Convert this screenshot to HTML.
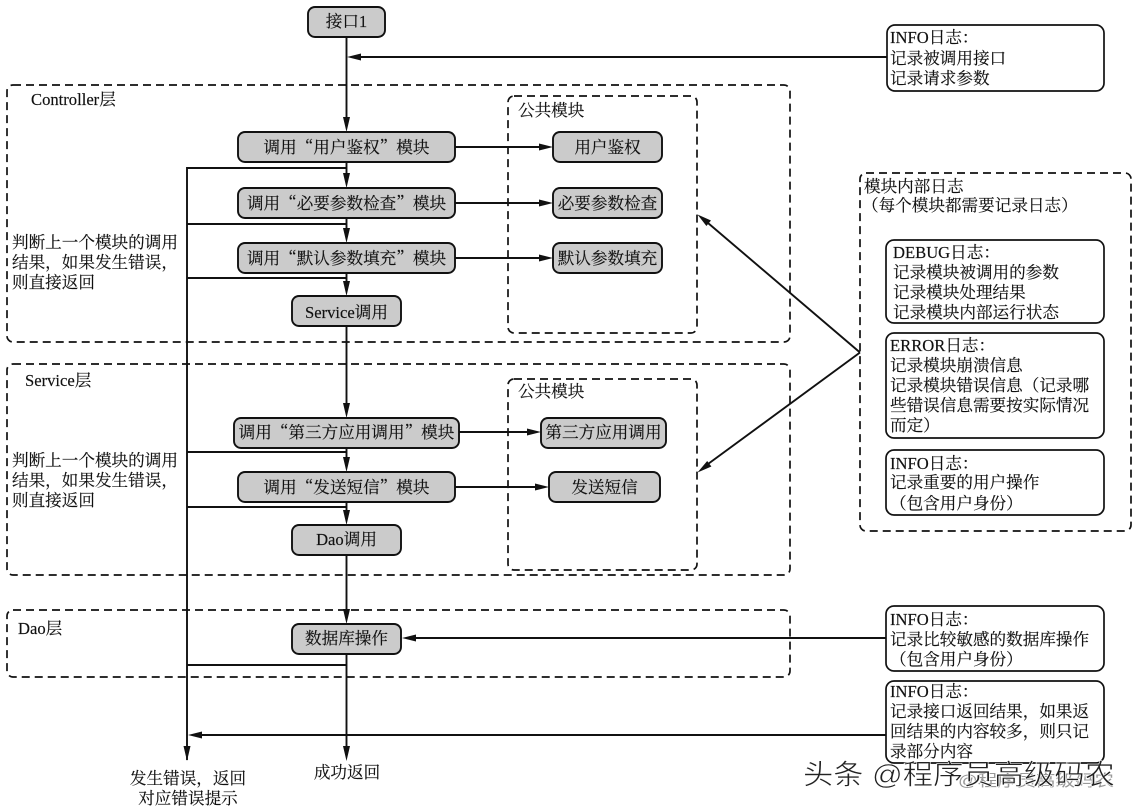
<!DOCTYPE html>
<html><head><meta charset="utf-8"><style>
html,body{margin:0;padding:0;background:#fff}
svg{display:block}
text{font-family:"Liberation Serif","Noto Serif CJK SC",serif;font-size:16.6px;fill:#111;stroke:#111;stroke-width:.15}
.q{font-family:"Noto Serif CJK SC",serif}
.m{text-anchor:middle}
.b{fill:#cbcbcb;stroke:#111;stroke-width:1.9}
.w{fill:#fff;stroke:#111;stroke-width:1.7}
.d{fill:none;stroke:#111;stroke-width:1.7;stroke-dasharray:8 5}
.l{fill:none;stroke:#111;stroke-width:1.9}
.a{fill:#111}
</style></head><body>
<svg width="1137" height="811" viewBox="0 0 1137 811" xmlns="http://www.w3.org/2000/svg">
<rect class="d" x="7" y="85" width="783" height="257" rx="6"/>
<rect class="d" x="7" y="364" width="783" height="211" rx="6"/>
<rect class="d" x="7" y="610" width="783" height="67" rx="6"/>
<rect class="d" x="508" y="96" width="189" height="237" rx="6"/>
<rect class="d" x="508" y="379" width="189" height="191" rx="6"/>
<rect class="d" x="860" y="173" width="271" height="358" rx="6"/>

<path class="l" d="M346.5 37V118M346.5 162V175M346.5 218V230M346.5 273V283M346.5 326V405M346.5 448V459M346.5 502V512M346.5 555V611M346.5 654V748"/>
<path class="l" d="M187 760V168H346.5M187 224H346.5M187 278H346.5M187 452H346.5M187 507H346.5M187 665H346.5"/>
<path class="l" d="M888 57H360M455 147H540M455 203H540M455 258H540M459 432H528M455 487H536M886 638H415M886 735H201M860 352.5L708 223M860 352.5L708 464"/>
<path class="a" d="M343 117h7l-3.500 15zM343 173h7l-3.500 15zM343 228h7l-3.500 15zM343 281h7l-3.500 15zM343 403h7l-3.500 15zM343 457h7l-3.500 15zM343 510h7l-3.500 15zM343 609h7l-3.500 15zM343 746h7l-3.500 15zM183.500 746h7l-3.500 15z"/>
<path class="a" d="M347 57l14-3.500v7zM553 147l-14-3.500v7zM553 203l-14-3.500v7zM553 258l-14-3.500v7zM541 432l-14-3.500v7zM549 487l-14-3.500v7zM402 638l14-3.500v7zM188 735l14-3.500v7zM697.500 214.500L706.400 226L711 220.500zM697.500 472.500L711.400 466.500L707.200 461z"/>

<rect class="b" x="308" y="7" width="77" height="30" rx="7"/>
<rect class="b" x="238" y="132" width="217" height="30" rx="7"/>
<rect class="b" x="238" y="188" width="217" height="30" rx="7"/>
<rect class="b" x="238" y="243" width="217" height="30" rx="7"/>
<rect class="b" x="292" y="296" width="109" height="30" rx="7"/>
<rect class="b" x="553" y="132" width="109" height="30" rx="7"/>
<rect class="b" x="553" y="188" width="109" height="30" rx="7"/>
<rect class="b" x="553" y="243" width="109" height="30" rx="7"/>
<rect class="b" x="234" y="418" width="225" height="30" rx="7"/>
<rect class="b" x="238" y="472" width="217" height="30" rx="7"/>
<rect class="b" x="292" y="525" width="109" height="30" rx="7"/>
<rect class="b" x="541" y="418" width="125" height="30" rx="7"/>
<rect class="b" x="549" y="472" width="111" height="30" rx="7"/>
<rect class="b" x="292" y="624" width="109" height="30" rx="7"/>

<rect class="w" x="887" y="25" width="217" height="66" rx="8"/>
<rect class="w" x="886" y="240" width="218" height="83" rx="8"/>
<rect class="w" x="886" y="333" width="218" height="105" rx="8"/>
<rect class="w" x="886" y="450" width="218" height="65" rx="8"/>
<rect class="w" x="886" y="606" width="218" height="65" rx="8"/>
<rect class="w" x="886" y="681" width="218" height="82" rx="8"/>

<text class="m" x="346.5" y="27">接口1</text>
<text class="m q" x="346.5" y="153">调用“用户鉴权”模块</text>
<text class="m q" x="346.5" y="209">调用“必要参数检查”模块</text>
<text class="m q" x="346.500" y="264">调用“默认参数填充”模块</text>
<text class="m" x="346.5" y="318">Service调用</text>
<text class="m q" x="346.5" y="438">调用“第三方应用调用”模块</text>
<text class="m q" x="346.5" y="493">调用“发送短信”模块</text>
<text class="m" x="346.5" y="545">Dao调用</text>
<text class="m" x="346.5" y="644">数据库操作</text>
<text class="m" x="607.5" y="153">用户鉴权</text>
<text class="m" x="607.5" y="209">必要参数检查</text>
<text class="m" x="607.5" y="264">默认参数填充</text>
<text class="m" x="603.5" y="438">第三方应用调用</text>
<text class="m" x="604.5" y="493">发送短信</text>
<text x="518" y="116">公共模块</text>
<text x="518" y="397">公共模块</text>
<text x="31" y="105">Controller层</text>
<text x="25" y="386">Service层</text>
<text x="18" y="634">Dao层</text>
<text x="12" y="248">判断上一个模块的调用</text>
<text x="12" y="268">结果，如果发生错误，</text>
<text x="12" y="288">则直接返回</text>
<text x="12" y="466">判断上一个模块的调用</text>
<text x="12" y="486">结果，如果发生错误，</text>
<text x="12" y="506">则直接返回</text>

<text x="890" y="43">INFO日志：</text>
<text x="890" y="64">记录被调用接口</text>
<text x="890" y="84">记录请求参数</text>
<text x="864" y="192">模块内部日志</text>
<text x="862" y="211">（每个模块都需要记录日志）</text>
<text x="893" y="258">DEBUG日志：</text>
<text x="893" y="278">记录模块被调用的参数</text>
<text x="893" y="298">记录模块处理结果</text>
<text x="893" y="318">记录模块内部运行状态</text>
<text x="890" y="351">ERROR日志：</text>
<text x="890" y="371">记录模块崩溃信息</text>
<text x="890" y="391">记录模块错误信息（记录哪</text>
<text x="890" y="411">些错误信息需要按实际情况</text>
<text x="890" y="431">而定）</text>
<text x="890" y="469">INFO日志：</text>
<text x="890" y="488">记录重要的用户操作</text>
<text x="890" y="509">（包含用户身份）</text>
<text x="890" y="625">INFO日志：</text>
<text x="890" y="645">记录比较敏感的数据库操作</text>
<text x="890" y="665">（包含用户身份）</text>
<text x="890" y="697">INFO日志：</text>
<text x="890" y="717">记录接口返回结果，如果返</text>
<text x="890" y="737">回结果的内容较多，则只记</text>
<text x="890" y="757">录部分内容</text>
<text class="m" x="188" y="784">发生错误，返回</text>
<text class="m" x="188" y="804">对应错误提示</text>
<text class="m" x="347" y="778">成功返回</text>

<text x="958" y="786" style="font-family:'Liberation Sans','Noto Sans CJK SC',sans-serif;font-size:16px;fill:#999;stroke:none" textLength="156" lengthAdjust="spacingAndGlyphs">@程序员高级码农</text>
<text x="803" y="784" style="font-family:'Liberation Sans','Noto Sans CJK SC',sans-serif;font-size:28px;fill:#222;stroke:#fff;stroke-width:.6" textLength="312" lengthAdjust="spacingAndGlyphs">头条 @程序员高级码农</text>
</svg>
</body></html>
